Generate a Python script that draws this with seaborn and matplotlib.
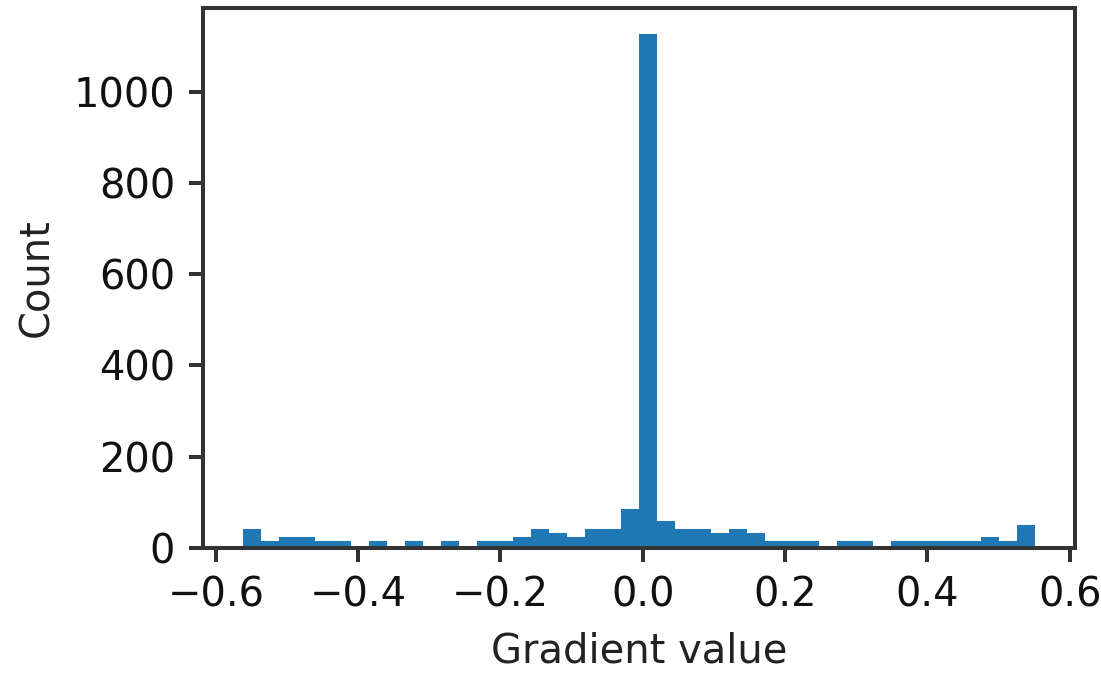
import numpy as np
import pandas as pd
import matplotlib
matplotlib.use("Agg")
import matplotlib.pyplot as plt
import seaborn as sns

# Histogram of gradient values: 44 equal-width bins
bin_lo = -0.5623
bin_hi = 0.5517
n_bins = 44

counts_left = [41, 15, 24, 24, 15, 15, 0, 15, 0, 15, 0, 15, 0, 15, 15, 24,
               41, 33, 24, 41, 41, 85]
count_peak = [1128]
counts_right = [59, 41, 41, 33, 41, 33, 15, 15, 15, 0, 15, 15, 0, 15, 15,
                15, 15, 15, 24, 15, 50]

x_label = "Gradient value"
y_label = "Count"

counts = np.array(counts_left + count_peak + counts_right, dtype=float)
edges = np.linspace(bin_lo, bin_hi, n_bins + 1)
centers = (edges[:-1] + edges[1:]) / 2
df = pd.DataFrame({"value": centers, "count": counts})

plt.rcParams.update({
    "font.family": ["DejaVu Sans"],
    "font.size": 10,
    "axes.linewidth": 1.0,
    "axes.edgecolor": "#333333",
    "xtick.color": "#333333",
    "ytick.color": "#333333",
    "xtick.labelcolor": "#111111",
    "ytick.labelcolor": "#111111",
    "xtick.major.width": 1.0,
    "ytick.major.width": 1.0,
    "xtick.major.size": 3.5,
    "ytick.major.size": 3.5,
})

dpi = 288
fig = plt.figure(figsize=(1101 / dpi, 676 / dpi), dpi=dpi)
ax = fig.add_axes([0.1844, 0.1898, 0.9764 - 0.1844, 0.9882 - 0.1898])

sns.histplot(data=df, x="value", weights="count", bins=n_bins,
             binrange=(bin_lo, bin_hi), ax=ax,
             color="#1f77b4", alpha=1.0, linewidth=0, edgecolor="none")

ax.set_xticks([-0.6, -0.4, -0.2, 0.0, 0.2, 0.4, 0.6])
ax.set_yticks([0, 200, 400, 600, 800, 1000])
ax.set_xlabel(x_label, color="#222222")
ax.set_ylabel(y_label, color="#222222")

fig.savefig("out.png", dpi=dpi)
